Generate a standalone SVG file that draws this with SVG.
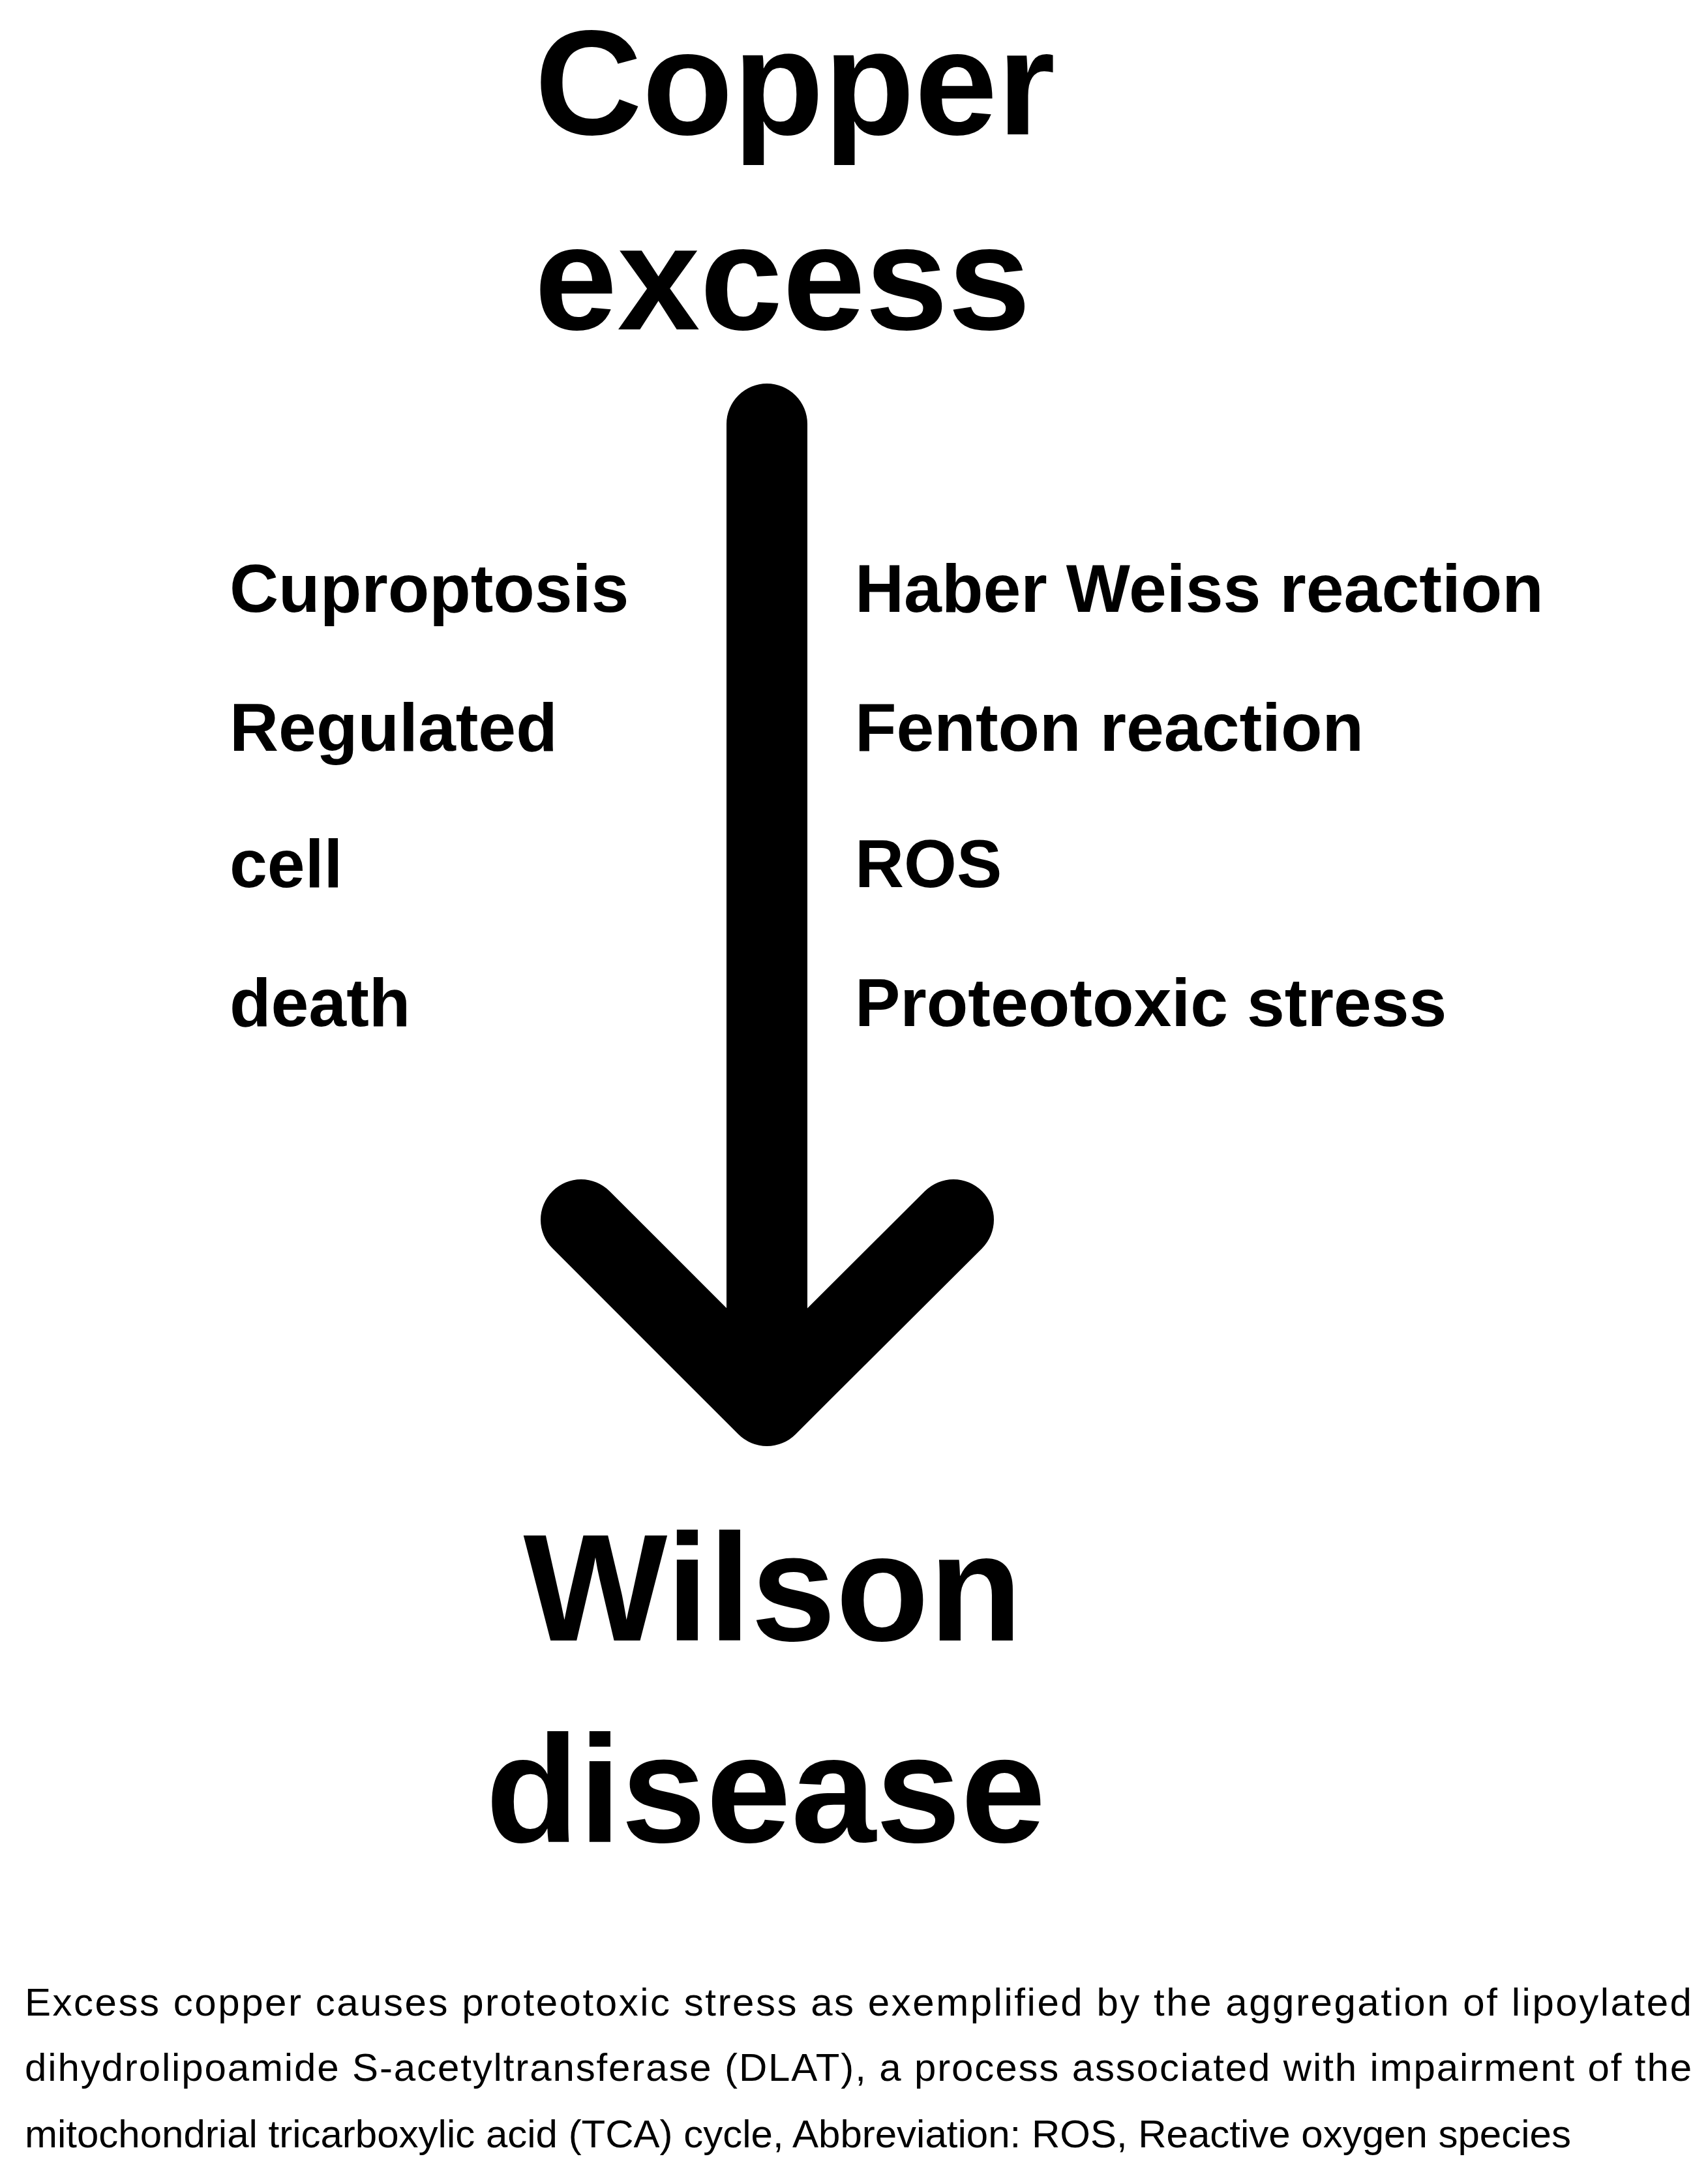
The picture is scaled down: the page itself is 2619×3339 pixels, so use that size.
<svg xmlns="http://www.w3.org/2000/svg" width="2619" height="3339" viewBox="0 0 2619 3339">
<style>
.t{font-family:"Liberation Sans",Arial,sans-serif;font-weight:bold;fill:#000}
.big{font-size:228px;text-anchor:middle}
.big2{font-size:234px;text-anchor:middle}
.m{font-size:104px}
.c{font-family:"Liberation Sans",Arial,sans-serif;font-size:60px;fill:#000}
</style>
<rect width="2619" height="3339" fill="#fff"/>
<g id="copper"><text class="t big" x="1219" y="206">Copper</text><text class="t big" x="1200" y="505">excess</text></g>
<g id="connectors"><path d="M1176 650V2140M891 1870L1176 2155L1462 1870" fill="none" stroke="#000" stroke-width="124" stroke-linecap="round" stroke-linejoin="round"/></g>
<g id="left"><text class="t m" x="352" y="938">Cuproptosis</text><text class="t m" x="352" y="1151">Regulated</text><text class="t m" x="352" y="1360">cell</text><text class="t m" x="352" y="1573">death</text></g>
<g id="right"><text class="t m" x="1311" y="938">Haber Weiss reaction</text><text class="t m" x="1311" y="1151">Fenton reaction</text><text class="t m" x="1311" y="1360">ROS</text><text class="t m" x="1311" y="1573">Proteotoxic stress</text></g>
<g id="wilson"><text class="t big2" x="1185" y="2515">Wilson</text><text class="t big2" x="1174" y="2824">disease</text></g>
<g id="caption">
<text class="c" x="38" y="3090" textLength="2556" lengthAdjust="spacing">Excess copper causes proteotoxic stress as exemplified by the aggregation of lipoylated</text>
<text class="c" x="38" y="3190" textLength="2556" lengthAdjust="spacing">dihydrolipoamide S-acetyltransferase (DLAT), a process associated with impairment of the</text>
<text class="c" x="38" y="3292">mitochondrial tricarboxylic acid (TCA) cycle, Abbreviation: ROS, Reactive oxygen species</text>
</g>
</svg>
